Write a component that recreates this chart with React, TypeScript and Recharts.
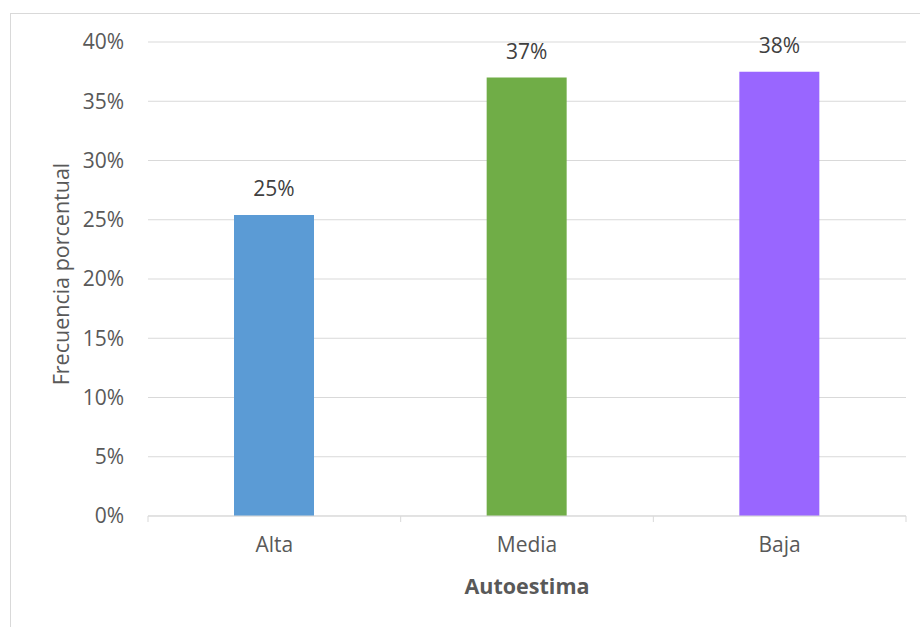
import React from "react";
import { BarChart, Bar, XAxis, YAxis, CartesianGrid, Cell, LabelList } from "recharts";

const categories = ["Alta", "Media", "Baja"];
const values = [0.254, 0.37, 0.375];
const colors = ["#5B9BD5", "#70AD47", "#9966FF"];
const yTicks = [0, 0.05, 0.1, 0.15, 0.2, 0.25, 0.3, 0.35, 0.4];

const data = categories.map((c, i) => ({ name: c, value: values[i] }));

const W = 920;
const H = 627;
const margin = { top: 42, right: 14, left: 14, bottom: 0 };
const yAxisWidth = 134;
const plotWidth = W - margin.left - margin.right - yAxisWidth;
const band = plotWidth / categories.length;
const FONT = "'Open Sans', sans-serif";
const X_TICK_MARGIN = 21;

const pct = (v: number) => `${Math.round(v * 100)}%`;

const XTick = (props: any) => {
  const { x, y, payload, index } = props;
  const axisY = y - X_TICK_MARGIN;
  const lines = [
    <line key="l" x1={x - band / 2} x2={x - band / 2} y1={axisY} y2={axisY + 6} stroke="#d9d9d9" strokeWidth={1} />,
  ];
  if (index === categories.length - 1) {
    lines.push(
      <line key="r" x1={x + band / 2} x2={x + band / 2} y1={axisY} y2={axisY + 6} stroke="#d9d9d9" strokeWidth={1} />
    );
  }
  return (
    <g>
      {lines}
      <text x={x} y={y} dy="0.71em" textAnchor="middle" fill="#595959" fontSize={21} fontFamily={FONT}>
        {payload.value}
      </text>
    </g>
  );
};

export default function App() {
  return (
    <div style={{ position: "absolute", left: 0, top: 0, width: W, height: H, overflow: "hidden", background: "#fff" }}>
      <div style={{ position: "absolute", left: 10, top: 13, width: W, height: H + 50, border: "1px solid #d9d9d9", boxSizing: "border-box" }} />
      <div style={{ position: "absolute", left: 0, top: 0 }}>
        <BarChart width={W} height={H} data={data} margin={margin} barSize={80}>
          <CartesianGrid vertical={false} stroke="#d9d9d9" strokeWidth={1} />
          <XAxis
            dataKey="name"
            height={111}
            tickLine={false}
            tickSize={0}
            tickMargin={X_TICK_MARGIN}
            axisLine={{ stroke: "#d9d9d9" }}
            tick={<XTick />}
            interval={0}
            label={{ value: "Autoestima", position: "center", dy: 15, fill: "#595959", fontSize: 21.5, fontWeight: 700, fontFamily: FONT }}
          />
          <YAxis
            width={yAxisWidth}
            domain={[0, 0.4]}
            ticks={yTicks}
            tickFormatter={pct}
            tickLine={false}
            axisLine={false}
            tickMargin={18}
            tick={{ fill: "#595959", fontSize: 21, fontFamily: FONT }}
            label={{ value: "Frecuencia porcentual", angle: -90, position: "center", dx: -20, dy: -5, fill: "#595959", fontSize: 21.5, fontFamily: FONT }}
          />
          <Bar dataKey="value" isAnimationActive={false}>
            {data.map((d, i) => (
              <Cell key={d.name} fill={colors[i]} />
            ))}
            <LabelList dataKey="value" position="top" offset={19} formatter={pct} fill="#404040" fontSize={21} fontFamily={FONT} />
          </Bar>
        </BarChart>
      </div>
    </div>
  );
}
